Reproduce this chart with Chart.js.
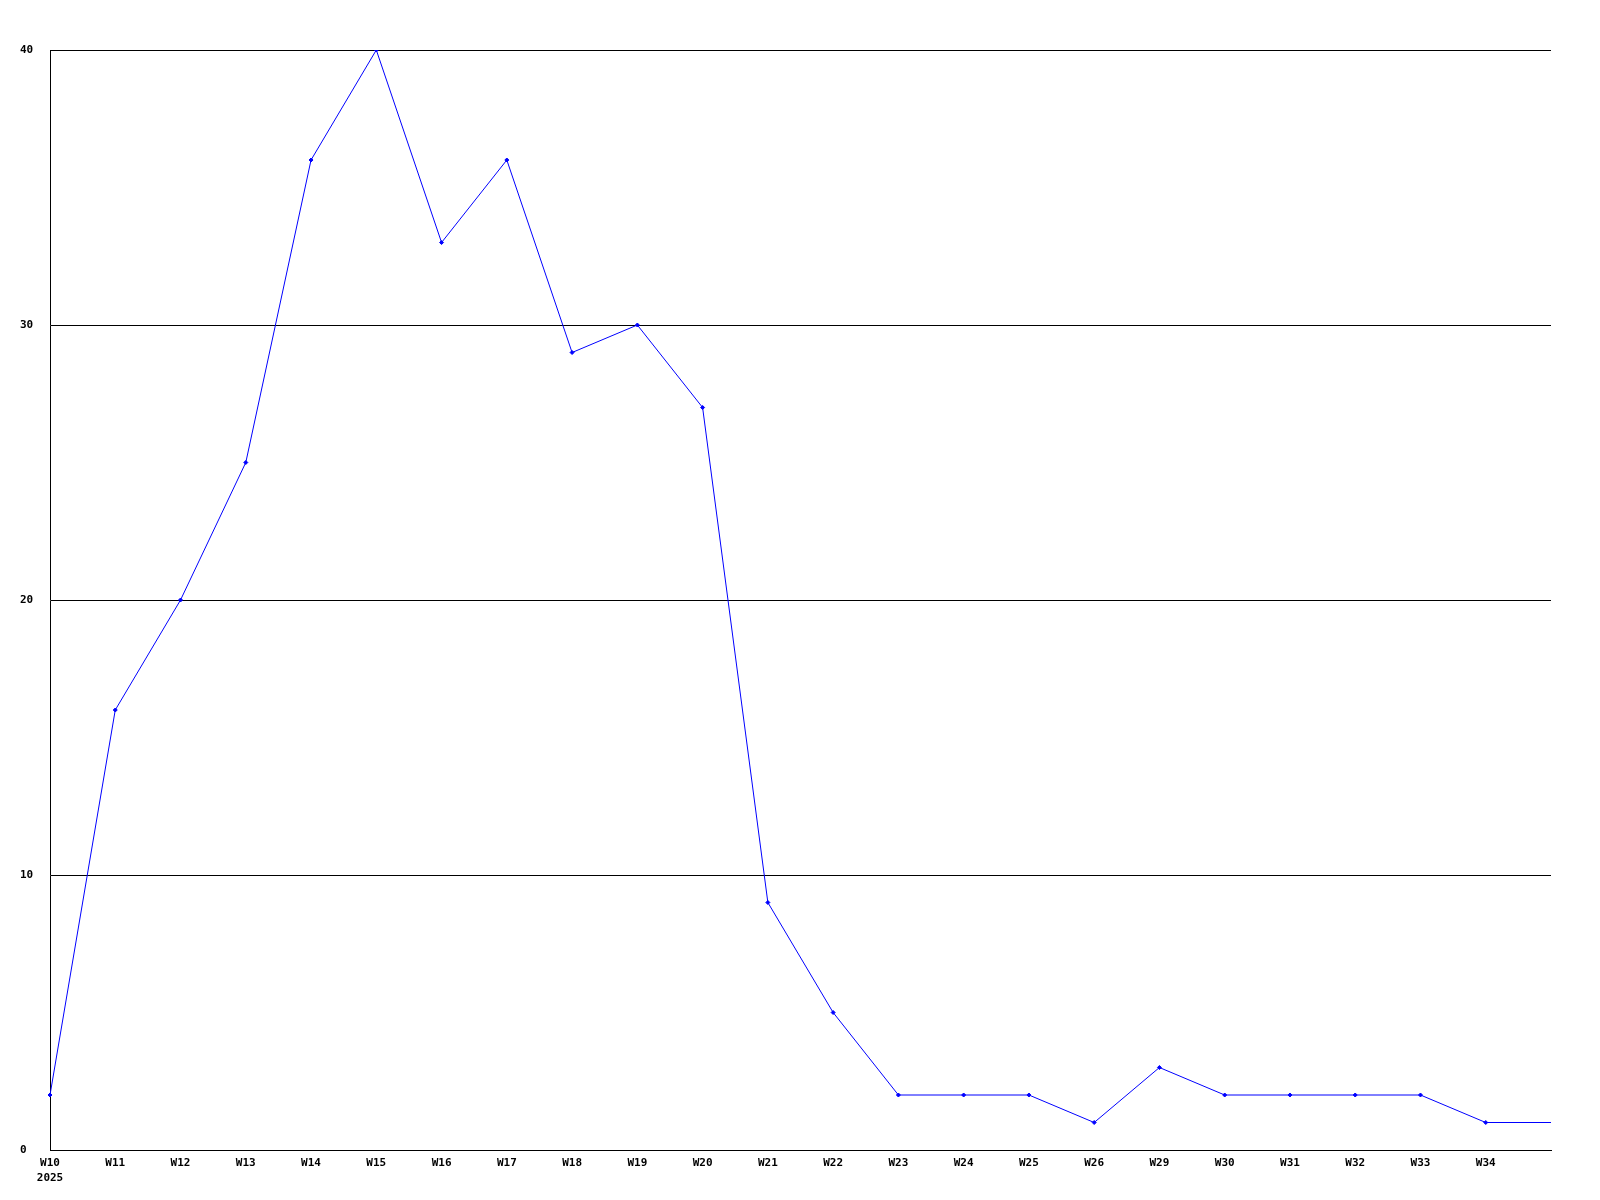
<!DOCTYPE html>
<html>
<head>
<meta charset="utf-8">
<script src="https://cdn.jsdelivr.net/npm/chart.js@4/dist/chart.umd.min.js"></script>
<style>
  body { margin: 0; background: #fff; }
  canvas { display: block; }
</style>
</head>
<body>
<canvas id="grafico" width="1600" height="1200"></canvas>
<script>
// dados
const semanas = [['W10', '2025'], 'W11', 'W12', 'W13', 'W14', 'W15', 'W16', 'W17', 'W18', 'W19', 'W20',
  'W21', 'W22', 'W23', 'W24', 'W25', 'W26', 'W29', 'W30', 'W31', 'W32', 'W33', 'W34', ''];
const valores = [2, 16, 20, 25, 36, 40, 33, 36, 29, 30, 27, 9, 5, 2, 2, 2, 1, 3, 2, 2, 2, 2, 1, 1];
const marcasY = [0, 10, 20, 30, 40];

const fonte = { family: '"DejaVu Sans Mono", monospace', size: 11, weight: 'bold', lineHeight: 1.35 };

let linha = document.getElementById('grafico').getContext('2d');
let lin = new Chart(linha, {
  type: 'line',
  data: {
    labels: semanas,
    datasets: [{
      data: valores,
      borderColor: '#0000ff',
      backgroundColor: '#0000ff',
      borderWidth: 1,
      pointStyle: 'rectRot',
      // ultimo ponto sem marcador
      pointRadius: ctx => ctx.dataIndex === valores.length - 1 ? 0 : 2,
      pointBorderWidth: 1,
      tension: 0,
      fill: false
    }]
  },
  options: {
    responsive: false,
    animation: false,
    layout: { padding: { left: 20, top: 50, right: 49, bottom: 10 } },
    plugins: { legend: { display: false }, tooltip: { enabled: false } },
    scales: {
      x: {
        offset: false,
        grid: { display: false, drawTicks: false },
        border: { display: true, color: '#000', width: 1 },
        ticks: { color: '#000', font: fonte, padding: 6, maxRotation: 0, autoSkip: false },
        afterFit: s => { s.height = 40; }
      },
      y: {
        min: 0,
        max: 40,
        afterBuildTicks: s => { s.ticks = marcasY.map(v => ({ value: v })); },
        grid: { color: '#000', lineWidth: 1, drawTicks: false },
        border: { display: true, color: '#000', width: 1 },
        ticks: { color: '#000', font: fonte, crossAlign: 'far', padding: 4 },
        afterFit: s => { s.width = 30; }
      }
    }
  }
});
</script>
</body>
</html>
